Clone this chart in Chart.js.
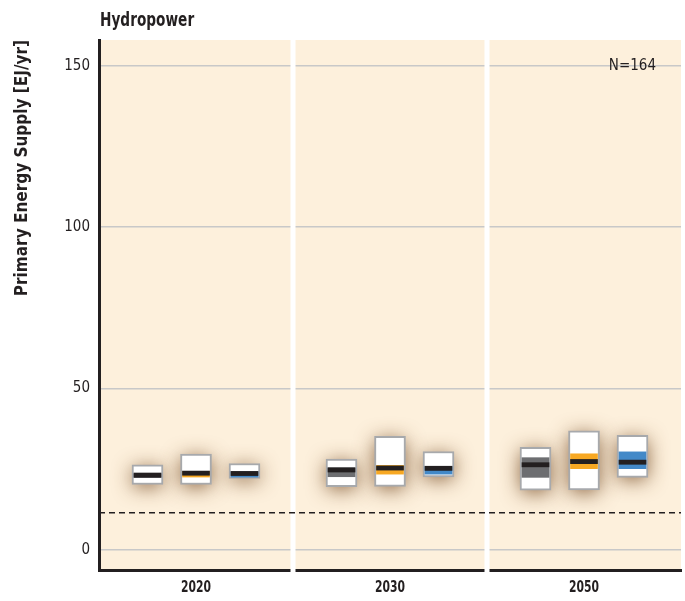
<!DOCTYPE html>
<html>
<head>
<meta charset="utf-8">
<script src="https://cdn.jsdelivr.net/npm/chart.js@4.4.1/dist/chart.umd.min.js"></script>
<style>
  html, body { margin: 0; padding: 0; background: #ffffff; }
  #chart { display: block; }
</style>
</head>
<body>
<canvas id="chart" width="685" height="601"></canvas>
<script>
const years = ['2020', '2030', '2050']
const yTicks = [0, 50, 100, 150]
const referenceLevel = 11.5 // dashed line
const sampleCount = 'N=164'

// one entry per year: 2020, 2030, 2050
const greyMin = [20.3, 19.6, 18.5]
const greyMax = [26.4, 28.2, 31.8]
const greyQ25 = [22.4, 22.7, 22.5]
const greyQ75 = [23.6, 25.5, 28.6]
const greyMed = [23.2, 24.8, 26.4]

const orangeMin = [20.3, 19.7, 18.6]
const orangeMax = [29.7, 35.2, 36.9]
const orangeQ25 = [22.6, 23.5, 25.2]
const orangeQ75 = [24.3, 26.2, 29.8]
const orangeMed = [23.8, 25.4, 27.4]

const blueMin = [22.2, 22.6, 22.5]
const blueMax = [26.8, 30.5, 35.5]
const blueQ25 = [22.6, 23.5, 25.2]
const blueQ75 = [24.2, 25.8, 30.4]
const blueMed = [23.7, 25.3, 27.2]

const series = [
    { min: greyMin, max: greyMax, q25: greyQ25, q75: greyQ75, med: greyMed, color: '#6d6e71' },
    { min: orangeMin, max: orangeMax, q25: orangeQ25, q75: orangeQ75, med: orangeMed, color: '#f7a823' },
    { min: blueMin, max: blueMax, q25: blueQ25, q75: blueQ75, med: blueMed, color: '#4389c8' }
]

const FONT = "'DejaVu Sans Condensed', 'Liberation Sans', sans-serif"
const INK = '#231f20'
const BEIGE = '#fdf0dc'

// x slot of a box: each year panel is 4 slots wide
function slot(yearIdx, seriesIdx) {
    return yearIdx * 4 + seriesIdx + 1
}

const datasets = []
series.forEach((s, si) => {
    datasets.push({
        type: 'bar', label: 'range' + si, order: 3, grouped: false,
        data: years.map((y, yi) => ({ x: slot(yi, si), y: [s.min[yi], s.max[yi]] })),
        backgroundColor: '#ffffff', borderColor: '#a7a9ac', borderWidth: 2,
        borderSkipped: false, barThickness: 31
    })
    datasets.push({
        type: 'bar', label: 'iqr' + si, order: 2, grouped: false,
        data: years.map((y, yi) => ({ x: slot(yi, si), y: [s.q25[yi], s.q75[yi]] })),
        backgroundColor: s.color, borderWidth: 0, barThickness: 27
    })
    datasets.push({
        type: 'bar', label: 'median' + si, order: 1, grouped: false,
        data: years.map((y, yi) => ({ x: slot(yi, si), y: [s.med[yi] - 0.65, s.med[yi] + 0.65] })),
        backgroundColor: INK, borderWidth: 0, barThickness: 27
    })
})
datasets.push({
    type: 'line', label: 'reference', order: 4,
    data: [{ x: 0, y: referenceLevel }, { x: 12, y: referenceLevel }],
    borderColor: INK, borderWidth: 1.5, borderDash: [6, 4], pointRadius: 0
})

// condensed text: the reference uses a narrow face
function narrowText(ctx, text, x, y, font, squeeze, align) {
    ctx.save()
    ctx.font = font
    ctx.fillStyle = INK
    ctx.textBaseline = 'middle'
    ctx.textAlign = align
    ctx.translate(x, y)
    ctx.scale(squeeze, 1)
    ctx.fillText(text, 0, 0)
    ctx.restore()
}

const panelPlugin = {
    id: 'panels',
    beforeDraw(chart) {
        const { ctx, chartArea: a } = chart
        ctx.save()
        ctx.fillStyle = '#ffffff'
        ctx.fillRect(0, 0, chart.width, chart.height)
        ctx.fillStyle = BEIGE
        ctx.fillRect(a.left, a.top, a.right - a.left, a.bottom - a.top)
        ctx.restore()
    },
    beforeDatasetsDraw(chart) {
        const { ctx, chartArea: a, scales } = chart
        ctx.save()
        ctx.fillStyle = '#ffffff'
        ;[4, 8].forEach(v => {
            const px = scales.x.getPixelForValue(v)
            ctx.fillRect(px - 2.5, a.top, 5, a.bottom - a.top + 3)
        })
        // soft brown glow behind the range boxes
        ctx.shadowColor = 'rgba(110, 65, 25, 0.85)'
        ctx.shadowBlur = 20
        ctx.shadowOffsetY = 3
        ctx.fillStyle = BEIGE
        chart.data.datasets.forEach((ds, i) => {
            if (!ds.label.startsWith('range')) return
            chart.getDatasetMeta(i).data.forEach(bar => {
                const top = Math.min(bar.y, bar.base)
                const h = Math.abs(bar.base - bar.y)
                ctx.fillRect(bar.x - bar.width / 2 + 1, top + 1, bar.width - 2, h - 2)
            })
        })
        ctx.restore()
    },
    afterDraw(chart) {
        const { ctx, chartArea: a, scales } = chart
        narrowText(ctx, 'Hydropower', a.left + 1, 21, 'bold 20px ' + FONT, 0.76, 'left')
        ctx.save()
        ctx.fillStyle = INK
        ctx.font = '15px ' + FONT
        ctx.textAlign = 'right'
        ctx.textBaseline = 'middle'
        ctx.fillText(sampleCount, 656, scales.y.getPixelForValue(150))
        ctx.restore()
        scales.x.ticks.forEach((t, i) => {
            narrowText(ctx, years[i], scales.x.getPixelForValue(t.value), a.bottom + 18,
                'bold 15px ' + FONT, 0.8, 'center')
        })
    }
}

const chart = new Chart(document.getElementById('chart'), {
    data: { datasets: datasets },
    options: {
        responsive: false,
        animation: false,
        layout: { padding: { top: 40, right: 4, left: 0, bottom: 0 } },
        plugins: { legend: { display: false }, tooltip: { enabled: false } },
        scales: {
            x: {
                type: 'linear', min: 0, max: 12, offset: false,
                afterFit: s => { s.height = 31 },
                afterBuildTicks: s => { s.ticks = years.map((y, i) => ({ value: i * 4 + 2 })) },
                grid: { display: false, drawTicks: false, offset: false },
                border: { display: true, color: INK, width: 3 },
                ticks: { display: false }
            },
            y: {
                min: -6.2, max: 158,
                afterFit: s => { s.width = 99 },
                afterBuildTicks: s => { s.ticks = yTicks.map(v => ({ value: v })) },
                grid: { color: '#c8c8c8', lineWidth: 1.5, drawTicks: false },
                border: { display: true, color: INK, width: 3 },
                ticks: {
                    color: INK, padding: 9,
                    font: { family: FONT, size: 15 }
                },
                title: {
                    display: true, text: 'Primary Energy Supply [EJ/yr]', align: 'end',
                    color: INK, padding: { top: 12, bottom: 0 },
                    font: { family: FONT, size: 17, weight: 'bold' }
                }
            }
        }
    },
    plugins: [panelPlugin]
})
</script>
</body>
</html>
